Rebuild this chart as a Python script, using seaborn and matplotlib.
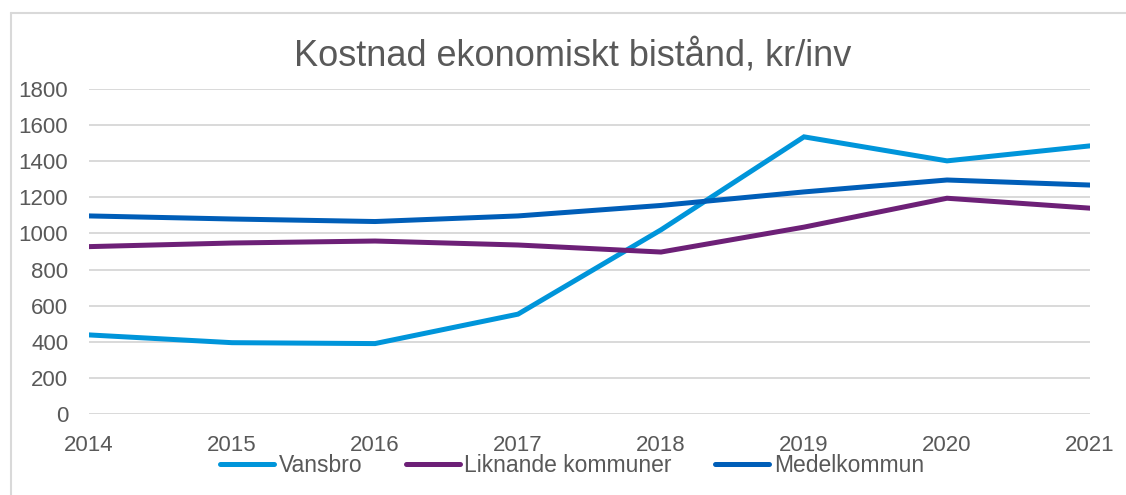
import matplotlib
matplotlib.use("Agg")
import matplotlib.pyplot as plt
import seaborn as sns
import pandas as pd
from matplotlib.lines import Line2D

years = [2014, 2015, 2016, 2017, 2018, 2019, 2020, 2021]
vansbro = [438, 395, 390, 553, 1020, 1535, 1402, 1485]
liknande = [927, 947, 958, 936, 897, 1035, 1195, 1140]
medel = [1097, 1080, 1066, 1097, 1155, 1230, 1296, 1268]
series_names = ["Vansbro", "Liknande kommuner", "Medelkommun"]
colors = ["#0095DA", "#6D2077", "#005EB8"]
yticks = [0, 200, 400, 600, 800, 1000, 1200, 1400, 1600, 1800]
title = "Kostnad ekonomiskt bistånd, kr/inv"

df = pd.DataFrame({
    "year": years * 3,
    "value": vansbro + liknande + medel,
    "series": [series_names[0]] * 8 + [series_names[1]] * 8 + [series_names[2]] * 8,
})

sns.set_theme(style="white")
plt.rcParams['font.family'] = ['Liberation Sans', 'DejaVu Sans']

W, H = 1126, 495
fig = plt.figure(figsize=(W / 100, H / 100), dpi=100)
ax = fig.add_axes([89 / W, 1 - 414 / H, (1090 - 89) / W, (414 - 89) / H])

sns.lineplot(data=df, x="year", y="value", hue="series", hue_order=series_names,
             palette=colors, linewidth=3.6, ax=ax, legend=False,
             solid_capstyle="round", solid_joinstyle="miter")

ax.set_xlim(2014, 2021)
ax.set_ylim(0, 1800)
ax.set_yticks(yticks)
ax.set_xticks(years)
ax.set_xticklabels([str(y) for y in years])
ax.yaxis.grid(True, color="#D9D9D9", linewidth=1.4)
ax.set_axisbelow(True)
for s in ax.spines.values():
    s.set_visible(False)
ax.set_xlabel("")
ax.set_ylabel("")
ax.tick_params(axis="both", length=0, labelsize=16, colors="#595959")
ax.tick_params(axis="y", pad=15)
ax.tick_params(axis="x", pad=15)

fig.text(573 / W, 1 - 65 / H, title, ha="center", va="baseline", fontsize=26, color="#595959")

handles = [Line2D([0], [0], color=c, linewidth=3.6, solid_capstyle="round") for c in colors]
leg = fig.legend(handles, series_names, loc="center", bbox_to_anchor=(572 / W, 1 - 466 / H),
                 ncol=3, frameon=False, fontsize=16.5, handlelength=2.35, handletextpad=0.2,
                 columnspacing=1.9, labelcolor="#595959", borderpad=0.0)

# outer chart border (only left and top visible)
fig.add_artist(Line2D([11 / W, 11 / W], [0, 1 - 13 / H], transform=fig.transFigure,
                      color="#D9D9D9", linewidth=1.5))
fig.add_artist(Line2D([11 / W, 1], [1 - 13 / H, 1 - 13 / H], transform=fig.transFigure,
                      color="#D9D9D9", linewidth=1.5))

fig.savefig("out.png", dpi=100)
